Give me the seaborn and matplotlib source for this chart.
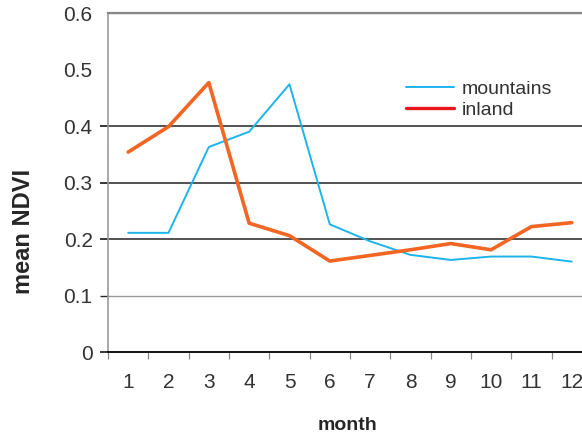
import pandas as pd
import seaborn as sns
import matplotlib.pyplot as plt
from matplotlib.lines import Line2D

# data
months = list(range(1, 13))
mountains = [0.211, 0.211, 0.363, 0.390, 0.474, 0.226, 0.196, 0.172, 0.163, 0.169, 0.169, 0.160]
inland = [0.354, 0.399, 0.477, 0.228, 0.206, 0.161, 0.171, 0.181, 0.192, 0.181, 0.222, 0.229]
yticks = [0, 0.1, 0.2, 0.3, 0.4, 0.5, 0.6]
ytick_labels = ["0", "0.1", "0.2", "0.3", "0.4", "0.5", "0.6"]

sns.set_style("white")
plt.rcParams['font.family'] = ['Liberation Sans', 'DejaVu Sans']

df = pd.DataFrame({"month": months * 2,
                   "ndvi": mountains + inland,
                   "area": ["mountains"] * 12 + ["inland"] * 12})

fig = plt.figure(figsize=(5.82, 4.37), dpi=100)
ax = fig.add_axes([0.1856, 0.1945, 1.017 - 0.1856, 0.970 - 0.1945])

blue = "#1db4ec"
orange = "#f26522"
sns.lineplot(data=df[df.area == "mountains"], x="month", y="ndvi", color=blue, lw=1.4, ax=ax, legend=False)
sns.lineplot(data=df[df.area == "inland"], x="month", y="ndvi", color=orange, lw=2.6, ax=ax, legend=False)

ax.set_xlim(0.5, 12.5)
ax.set_ylim(0, 0.6)
ax.set_xticks(months)
ax.set_xticklabels([str(m) for m in months])
ax.set_xticks([m + 0.5 for m in range(0, 13)], minor=True)
ax.tick_params(axis="x", which="both", bottom=True)
ax.tick_params(axis="x", which="major", length=0, labelsize=15, labelcolor="#333333", pad=15)
ax.tick_params(axis="x", which="minor", length=5, width=0.9, color="#888888", direction="out")
ax.set_yticks(yticks)
ax.set_yticklabels(ytick_labels)
ax.tick_params(axis="y", which="major", left=True, length=6, width=1.2, labelsize=15,
               labelcolor="#333333", pad=5)

# horizontal gridlines, styled as in the reference
ax.yaxis.grid(True)
grid_styles = [("#000000", 0), ("#999999", 1.0), ("#444444", 1.3), ("#444444", 1.3),
               ("#444444", 1.3), ("#ffffff", 0), ("#888888", 1.6)]
for gl, tk, (c, w) in zip(ax.get_ygridlines(), ax.yaxis.get_major_ticks(), grid_styles):
    gl.set_color(c)
    gl.set_linewidth(w)
    tk.tick1line.set_color(c if w > 0 else "#000000")
    tk.tick1line.set_markeredgewidth(w if w > 0 else 1.3)
ax.yaxis.get_major_ticks()[5].tick1line.set_visible(False)
ax.yaxis.get_major_ticks()[6].tick1line.set_visible(False)
ax.set_axisbelow(True)

ax.spines["left"].set_color("#999999")
ax.spines["left"].set_linewidth(1.2)
ax.spines["bottom"].set_color("#000000")
ax.spines["bottom"].set_linewidth(1.3)
ax.spines["top"].set_color("#888888")
ax.spines["top"].set_linewidth(1.6)
ax.spines["right"].set_visible(False)

ax.set_xlabel("")
ax.set_ylabel("")
fig.text(0.040, 0.470, "mean NDVI", rotation=90, ha="center", va="center",
         fontsize=17, fontweight="bold")
fig.text(0.597, 0.027, "month", ha="center", va="center", fontsize=14, fontweight="bold")

handles = [Line2D([], [], color=blue, lw=1.4), Line2D([], [], color="#e8141e", lw=2.4)]
ax.legend(handles, ["mountains", "inland"], loc="upper left", bbox_to_anchor=(0.579, 0.853),
          frameon=False, fontsize=14, handlelength=2.5, handletextpad=0.4,
          labelspacing=0.15, labelcolor="#333333")

fig.savefig("out.png", dpi=100)
